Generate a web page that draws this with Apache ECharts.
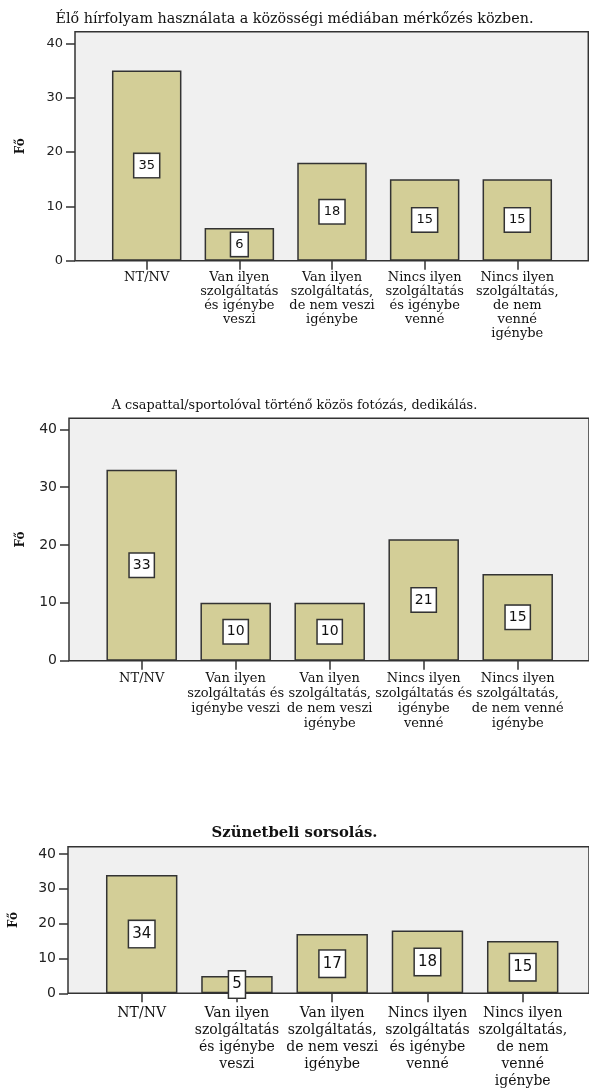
<!DOCTYPE html>
<html>
<head>
<meta charset="utf-8">
<script src="https://cdn.jsdelivr.net/npm/echarts@6/dist/echarts.min.js"></script>
<style>
html,body{margin:0;padding:0;background:#fff;}
#chart{width:589px;height:1091px;}
</style>
</head>
<body>
<div id="chart"></div>
<script>
// ---- data ----
const title1 = 'Élő hírfolyam használata a közösségi médiában mérkőzés közben.';
const title2 = 'A csapattal/sportolóval történő közös fotózás, dedikálás.';
const title3 = 'Szünetbeli sorsolás.';
const yAxisName = 'Fő';
const yTicks = [0, 10, 20, 30, 40];

const categories1 = ['NT/NV', 'Van ilyen\nszolgáltatás\nés igénybe\nveszi', 'Van ilyen\nszolgáltatás,\nde nem veszi\nigénybe', 'Nincs ilyen\nszolgáltatás\nés igénybe\nvenné', 'Nincs ilyen\nszolgáltatás,\nde nem\nvenné\nigénybe'];
const values1 = [35, 6, 18, 15, 15];

const categories2 = ['NT/NV', 'Van ilyen\nszolgáltatás és\nigénybe veszi', 'Van ilyen\nszolgáltatás,\nde nem veszi\nigénybe', 'Nincs ilyen\nszolgáltatás és\nigénybe\nvenné', 'Nincs ilyen\nszolgáltatás,\nde nem venné\nigénybe'];
const values2 = [33, 10, 10, 21, 15];

const categories3 = ['NT/NV', 'Van ilyen\nszolgáltatás\nés igénybe\nveszi', 'Van ilyen\nszolgáltatás,\nde nem veszi\nigénybe', 'Nincs ilyen\nszolgáltatás\nés igénybe\nvenné', 'Nincs ilyen\nszolgáltatás,\nde nem\nvenné\nigénybe'];
const values3 = [34, 5, 17, 18, 15];

// ---- layout (pixels) ----
const charts = [
  {title: title1, cats: categories1, vals: values1, titleY: 14.5, titleSize: 14.3, bold: 'normal',
   T: 31.7, B: 260.7, y40: 43.3, L: 75, R: 588.3, c1: 146.7, band: 92.65,
   catFont: 13, catLH: 14, catMargin: 10, yFont: 13, yMargin: 12, valFont: 13, valLH: 15, valPad: [4, 4], nameGap: 48},
  {title: title2, cats: categories2, vals: values2, titleY: 401, titleSize: 12.8, bold: 'normal',
   T: 418.3, B: 660.7, y40: 429.3, L: 69, R: 591, c1: 141.7, band: 94,
   catFont: 13, catLH: 15, catMargin: 10, yFont: 14, yMargin: 12, valFont: 14, valLH: 17, valPad: [3, 3], nameGap: 42},
  {title: title3, cats: categories3, vals: values3, titleY: 828, titleSize: 14.8, bold: 'bold',
   T: 846.7, B: 993.3, y40: 854, L: 67.7, R: 591, c1: 141.7, band: 95.25,
   catFont: 14, catLH: 17, catMargin: 12, yFont: 14, yMargin: 12, valFont: 15, valLH: 18, valPad: [4, 3], nameGap: 48}
];

const option = {
  animation: false,
  backgroundColor: '#fff',
  title: [], grid: [], xAxis: [], yAxis: [], series: []
};

charts.forEach((c, i) => {
  const ymax = 40 * (c.B - c.T) / (c.B - c.y40);
  option.title.push({
    text: c.title, left: 'center', top: c.titleY, textVerticalAlign: 'middle',
    textStyle: {fontFamily: 'DejaVu Serif', fontSize: c.titleSize, fontWeight: c.bold, color: '#111'}
  });
  option.grid.push({
    left: c.L, top: c.T, width: c.R - c.L, height: c.B - c.T,
    show: true, backgroundColor: '#f0f0f0', borderColor: '#333', borderWidth: 1.5
  });
  const bandLeft = c.c1 - c.band / 2;
  option.grid.push({
    left: bandLeft, top: c.T, width: c.band * 5, height: c.B - c.T, show: false
  });
  const gBox = i * 2, gBar = i * 2 + 1;
  option.xAxis.push({type: 'value', gridIndex: gBox, show: false, min: 0, max: 1});
  option.xAxis.push({
    type: 'category', gridIndex: gBar, data: c.cats, boundaryGap: true,
    axisLine: {show: false},
    axisTick: {show: true, alignWithLabel: true, length: 9, lineStyle: {color: '#333', width: 1.5}},
    axisLabel: {interval: 0, margin: c.catMargin, fontFamily: 'DejaVu Serif', fontSize: c.catFont,
      lineHeight: c.catLH, color: '#111'},
    splitLine: {show: false}
  });
  option.yAxis.push({
    type: 'value', gridIndex: gBox, min: 0, max: ymax,
    name: yAxisName, nameLocation: 'middle', nameGap: c.nameGap,
    nameTextStyle: {fontFamily: 'DejaVu Serif', fontWeight: 'bold', fontSize: 12, color: '#111'},
    axisLine: {show: false},
    axisTick: {show: true, length: 9, customValues: yTicks, lineStyle: {color: '#333', width: 1.5}},
    axisLabel: {customValues: yTicks, margin: c.yMargin, fontFamily: 'DejaVu Sans', fontSize: c.yFont, color: '#222'},
    splitLine: {show: false}
  });
  option.yAxis.push({type: 'value', gridIndex: gBar, min: 0, max: ymax, show: false, splitLine: {show: false}});
  option.series.push({
    type: 'bar', xAxisIndex: gBar, yAxisIndex: gBar, data: c.vals, barWidth: '75%',
    itemStyle: {color: '#d3ce97', borderColor: '#333', borderWidth: 1.5},
    label: {
      show: true, position: 'inside', formatter: '{c}',
      fontFamily: 'DejaVu Sans', fontSize: c.valFont, lineHeight: c.valLH, color: '#111',
      backgroundColor: '#fff', borderColor: '#333', borderWidth: 1.5, padding: c.valPad
    }
  });
});

const chart = echarts.init(document.getElementById('chart'), null, {renderer: 'canvas'});
chart.setOption(option);
</script>
</body>
</html>
